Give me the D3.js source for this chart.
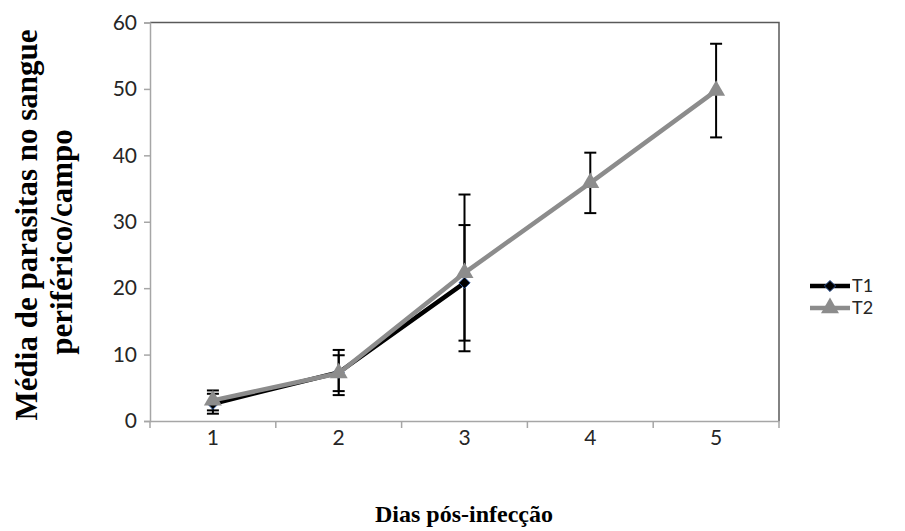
<!DOCTYPE html>
<html>
<head>
  <meta charset="utf-8">
  <script src="https://d3js.org/d3.v7.min.js"></script>
  <style>
    body { margin: 0; background: #ffffff; }
    .tick text { font-family: Lato, 'Open Sans', sans-serif; font-size: 21px; fill: #262626; }
    .title { font-family: 'Liberation Serif', 'Times New Roman', serif; font-weight: bold; fill: #000; }
  </style>
</head>
<body>
  <svg id="chart" width="905" height="531"></svg>
  <script>
    // data
    const days = ["1", "2", "3", "4", "5"];
    const t1Values = [2.6, 7.3, 20.8];
    const t1Errors = [1.5, 3.4, 8.7];
    const t2Values = [3.1, 7.2, 22.3, 35.85, 49.75];
    const t2Errors = [1.5, 2.7, 11.8, 4.55, 7.05];
    const yTicks = [0, 10, 20, 30, 40, 50, 60];

    const margin = { top: 22.5, right: 126, bottom: 110, left: 150 };
    const width = 905 - margin.left - margin.right;
    const height = 531 - margin.top - margin.bottom;

    const svg = d3.select("#chart");
    const g = svg.append("g").attr("transform", `translate(${margin.left},${margin.top})`);

    const x = d3.scaleBand().domain(days).range([0, width]);
    const y = d3.scaleLinear().domain([0, 60]).range([height, 0]);

    // plot border (top & right darker)
    g.append("path")
      .attr("d", `M0,0H${width}V${height}`)
      .attr("fill", "none").attr("stroke", "#595959").attr("stroke-width", 1.5);

    // y axis
    const yAxis = g.append("g")
      .call(d3.axisLeft(y).tickValues(yTicks).tickSize(6).tickPadding(7));
    yAxis.select(".domain").attr("stroke", "#a6a6a6").attr("stroke-width", 1.5);
    yAxis.selectAll(".tick line").attr("stroke", "#a6a6a6").attr("stroke-width", 1.5);

    // x axis: ticks at band boundaries, labels at centers
    const xAxis = g.append("g").attr("transform", `translate(0,${height})`)
      .call(d3.axisBottom(x).tickSize(0).tickPadding(9));
    xAxis.select(".domain").attr("stroke", "#a6a6a6").attr("stroke-width", 1.5);
    g.append("g").attr("transform", `translate(0,${height})`)
      .selectAll("line")
      .data(d3.range(days.length + 1))
      .join("line")
      .attr("x1", i => i * x.step()).attr("x2", i => i * x.step())
      .attr("y1", 0).attr("y2", 7)
      .attr("stroke", "#a6a6a6").attr("stroke-width", 1.5);

    const line = d3.line()
      .x((d, i) => x(days[i]) + x.bandwidth() / 2)
      .y(d => y(d));

    function errorBars(values, errors) {
      const eb = g.append("g").attr("stroke", "#000").attr("stroke-width", 2);
      values.forEach((v, i) => {
        const cx = x(days[i]) + x.bandwidth() / 2;
        eb.append("line").attr("x1", cx).attr("x2", cx)
          .attr("y1", y(v - errors[i])).attr("y2", y(v + errors[i]));
        [v - errors[i], v + errors[i]].forEach(e => {
          eb.append("line").attr("x1", cx - 6).attr("x2", cx + 6)
            .attr("y1", y(e)).attr("y2", y(e));
        });
      });
    }

    errorBars(t2Values, t2Errors);
    errorBars(t1Values, t1Errors);

    // T1 series
    g.append("path").datum(t1Values)
      .attr("d", line).attr("fill", "none")
      .attr("stroke", "#000").attr("stroke-width", 4.5).attr("stroke-linejoin", "round");

    g.selectAll(".t1pt").data(t1Values).join("path")
      .attr("class", "t1pt")
      .attr("transform", (d, i) => `translate(${x(days[i]) + x.bandwidth() / 2},${y(d)})`)
      .attr("d", d3.symbol(d3.symbolDiamond2, 80)())
      .attr("fill", "#000").attr("stroke", "#2f5597").attr("stroke-width", 1);

    // T2 series
    g.append("path").datum(t2Values)
      .attr("d", line).attr("fill", "none")
      .attr("stroke", "#8c8c8c").attr("stroke-width", 4.5).attr("stroke-linejoin", "round");

    g.selectAll(".t2pt").data(t2Values).join("path")
      .attr("class", "t2pt")
      .attr("transform", (d, i) => `translate(${x(days[i]) + x.bandwidth() / 2},${y(d)})`)
      .attr("d", d3.symbol(d3.symbolTriangle, 140)())
      .attr("fill", "#8c8c8c");

    // legend
    const legend = svg.append("g").attr("transform", "translate(810,0)");
    const items = [
      { name: "T1", color: "#000", sym: d3.symbolDiamond2, size: 80, y: 286 },
      { name: "T2", color: "#8c8c8c", sym: d3.symbolTriangle, size: 140, y: 308 }
    ];
    items.forEach(it => {
      legend.append("line").attr("x1", 0).attr("x2", 40)
        .attr("y1", it.y).attr("y2", it.y)
        .attr("stroke", it.color).attr("stroke-width", 4.5);
      legend.append("path")
        .attr("transform", `translate(20,${it.y})`)
        .attr("d", d3.symbol(it.sym, it.size)())
        .attr("fill", it.color)
        .attr("stroke", it.name === "T1" ? "#2f5597" : "none");
      legend.append("text").attr("x", 42).attr("y", it.y).attr("dy", "0.36em")
        .style("font-family", "Lato, 'Open Sans', sans-serif")
        .style("font-size", "18px").attr("fill", "#262626")
        .text(it.name);
    });

    // axis titles
    svg.append("text").attr("class", "title")
      .attr("transform", "translate(37,225) rotate(-90)")
      .attr("text-anchor", "middle")
      .style("font-size", "31px")
      .text("Média de parasitas no sangue");
    svg.append("text").attr("class", "title")
      .attr("transform", "translate(72,242) rotate(-90)")
      .attr("text-anchor", "middle")
      .style("font-size", "31px")
      .text("periférico/campo");
    svg.append("text").attr("class", "title")
      .attr("x", 464).attr("y", 522)
      .attr("text-anchor", "middle")
      .style("font-size", "24px")
      .text("Dias pós-infecção");
  </script>
</body>
</html>
